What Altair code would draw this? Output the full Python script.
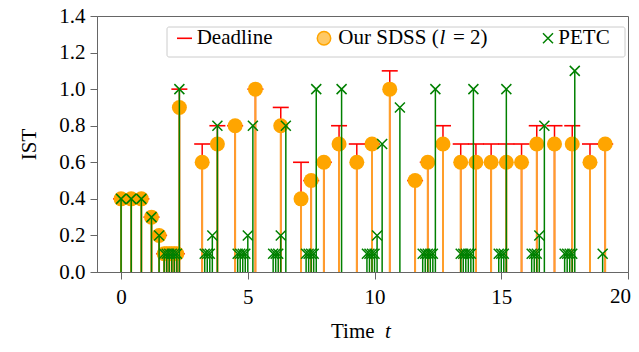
import altair as alt
import pandas as pd

# ---------------- data ----------------
sdss_t = [0, 0.4, 0.8, 1.2, 1.5, 1.7, 1.8, 1.9, 2.0, 2.1, 2.2, 2.3, 3.2, 3.8, 4.5,
          5.3, 6.3, 7.1, 7.5, 8.0, 8.6, 9.3, 9.9, 10.6, 11.6, 12.1, 12.7, 13.4,
          14.0, 14.6, 15.2, 15.8, 16.4, 17.1, 17.8, 18.5, 19.1]
sdss_ist = [0.4, 0.4, 0.4, 0.3, 0.2, 0.1, 0.1, 0.1, 0.1, 0.1, 0.1, 0.9, 0.6, 0.7, 0.8,
            1.0, 0.8, 0.4, 0.5, 0.6, 0.7, 0.6, 0.7, 1.0, 0.5, 0.6, 0.7, 0.6,
            0.6, 0.6, 0.6, 0.6, 0.7, 0.7, 0.7, 0.6, 0.7]
deadline = [0.4, 0.4, 0.4, 0.3, 0.2, 0.1, 0.1, 0.1, 0.1, 0.1, 0.1, 1.0, 0.7, 0.8, 0.8,
            1.0, 0.9, 0.6, 0.5, 0.6, 0.8, 0.7, 0.7, 1.1, 0.5, 0.6, 0.8, 0.7,
            0.7, 0.7, 0.7, 0.7, 0.8, 0.8, 0.8, 0.7, 0.7]

petc_t = [0, 0.4, 0.8, 1.2, 1.5, 1.7, 1.8, 1.9, 2.0, 2.1, 2.2, 2.3,
          3.3, 3.4, 3.5, 3.6, 3.8,
          4.6, 4.7, 4.8, 4.9, 5.0, 5.2,
          6.0, 6.1, 6.2, 6.3, 6.5,
          7.3, 7.4, 7.5, 7.6, 7.7,
          8.7,
          9.7, 9.8, 9.9, 10.0, 10.1, 10.3,
          11.0,
          11.9, 12.0, 12.1, 12.2, 12.3, 12.4,
          13.4, 13.5, 13.6, 13.7, 13.8, 13.9,
          14.9, 15.0, 15.1, 15.2,
          16.2, 16.3, 16.4, 16.5, 16.7,
          17.5, 17.6, 17.7, 17.8, 17.9,
          19.0]
petc_ist = [0.4, 0.4, 0.4, 0.3, 0.2, 0.1, 0.1, 0.1, 0.1, 0.1, 0.1, 1.0,
            0.1, 0.1, 0.1, 0.2, 0.8,
            0.1, 0.1, 0.1, 0.1, 0.2, 0.8,
            0.1, 0.1, 0.1, 0.2, 0.8,
            0.1, 0.1, 0.1, 0.1, 1.0,
            1.0,
            0.1, 0.1, 0.1, 0.1, 0.2, 0.7,
            0.9,
            0.1, 0.1, 0.1, 0.1, 0.1, 1.0,
            0.1, 0.1, 0.1, 0.1, 0.1, 1.0,
            0.1, 0.1, 0.1, 1.0,
            0.1, 0.1, 0.1, 0.2, 0.8,
            0.1, 0.1, 0.1, 0.1, 1.1,
            0.1]

x_ticks = [0, 5, 10, 15, 20]
y_ticks = [0.0, 0.2, 0.4, 0.6, 0.8, 1.0, 1.2, 1.4]

sdss_df = pd.DataFrame({"t": sdss_t, "ist": sdss_ist, "deadline": deadline,
                        "base": [0.0] * len(sdss_t)})
petc_df = pd.DataFrame({"t": petc_t, "petc": petc_ist, "base": [0.0] * len(petc_t)})

FONT = "Liberation Serif"
FS = 21
RED = "#ff0000"
ORANGE = "#ffa500"
STEM_OR = "#ff9f2a"
GREEN = "#008000"
XSHAPE = "M-1,-1L1,1M-1,1L1,-1"
CAP = "M-1,0L1,0"

xscale = alt.Scale(domain=[-0.95, 20], nice=False, zero=False)
yscale = alt.Scale(domain=[0, 1.4], nice=False)

# the last tick label ("20") sits at the page edge; it is drawn as its own text
# so that it stays visible inside the canvas
xaxis = alt.Axis(values=x_ticks, title=None, grid=False, tickSize=7, labelPadding=7,
                 labelFont=FONT, labelFontSize=FS, labelColor="black",
                 labelExpr="datum.value == 20 ? '' : datum.label",
                 domainColor="#666", tickColor="#666", labelFlush=False)
yaxis = alt.Axis(values=y_ticks, format=".1f", title="IST", grid=False, tickSize=7,
                 labelPadding=5, labelFont=FONT, labelFontSize=FS, labelColor="black",
                 domainColor="#666", tickColor="#666", labelFlush=False,
                 titleFont=FONT, titleFontSize=FS, titleFontWeight="normal",
                 titleColor="black", titleAngle=270, titleX=-68, titleY=128,
                 titleAlign="center", titleBaseline="middle")


def X():
    return alt.X("t:Q", scale=xscale, axis=xaxis)


def Y(field):
    return alt.Y(f"{field}:Q", scale=yscale, axis=yaxis)


red_stems = alt.Chart(sdss_df).mark_rule(color=RED, strokeWidth=1.5).encode(
    x=X(), y=Y("deadline"), y2="base:Q")
red_caps = alt.Chart(sdss_df).mark_point(shape=CAP, size=256, filled=False,
                                         stroke=RED, strokeWidth=1.6, opacity=1).encode(
    x=X(), y=Y("deadline"))
or_stems = alt.Chart(sdss_df).mark_rule(color=STEM_OR, strokeWidth=2).encode(
    x=X(), y=Y("ist"), y2="base:Q")
or_pts = alt.Chart(sdss_df).mark_circle(size=225, color=ORANGE, opacity=1).encode(
    x=X(), y=Y("ist"))
gr_stems = alt.Chart(petc_df).mark_rule(color=GREEN, strokeWidth=1.5).encode(
    x=X(), y=Y("petc"), y2="base:Q")
gr_pts = alt.Chart(petc_df).mark_point(shape=XSHAPE, size=100, filled=False,
                                       stroke=GREEN, strokeWidth=1.5, opacity=1).encode(
    x=X(), y=Y("petc"))

one = alt.Data(values=[{"k": 1}])


def txt(s, x, y, italic=False, align="left", baseline="alphabetic"):
    return alt.Chart(one).mark_text(text=s, font=FONT, fontSize=FS, color="black",
                                    align=align, baseline=baseline,
                                    fontStyle="italic" if italic else "normal").encode(
        x=alt.value(x), y=alt.value(y))


legend_box = alt.Chart(one).mark_rect(fill="white", fillOpacity=0.85, stroke="#cccccc",
                                      strokeWidth=1, cornerRadius=2).encode(
    x=alt.value(70), x2=alt.value(528), y=alt.value(11), y2=alt.value(41))
leg_red = alt.Chart(one).mark_rule(color=RED, strokeWidth=1.6).encode(
    x=alt.value(80), x2=alt.value(95), y=alt.value(22.3))
leg_circ = alt.Chart(one).mark_point(shape="circle", size=180, filled=True,
                                     fill="#ffc965", stroke=ORANGE, strokeWidth=1.5,
                                     opacity=1).encode(x=alt.value(227), y=alt.value(22.3))
leg_x = alt.Chart(one).mark_point(shape=XSHAPE, size=100, filled=False, stroke=GREEN,
                                  strokeWidth=1.5, opacity=1).encode(
    x=alt.value(451), y=alt.value(22.3))

layers = [red_stems, red_caps, or_stems, or_pts, gr_stems, gr_pts,
          legend_box, leg_red, leg_circ, leg_x,
          txt("Deadline", 99.7, 27.5),
          txt("Our SDSS (", 241.3, 27.5),
          txt("l", 342.5, 27.5, italic=True),
          txt("= 2)", 356, 27.5),
          txt("PETC", 461.3, 27.5),
          txt("20", 534, 270, align="right", baseline="top"),
          txt("Time", 234, 322),
          txt("t", 288, 322, italic=True)]

chart = alt.layer(*layers).properties(
    width=531, height=256,
    autosize=alt.AutoSizeParams(type="none"),
    padding={"left": 89, "top": 8, "right": 3, "bottom": 72},
).configure_view(stroke="#666", strokeWidth=1)

chart.save("out.html", embed_options={"renderer": "svg", "actions": False})
